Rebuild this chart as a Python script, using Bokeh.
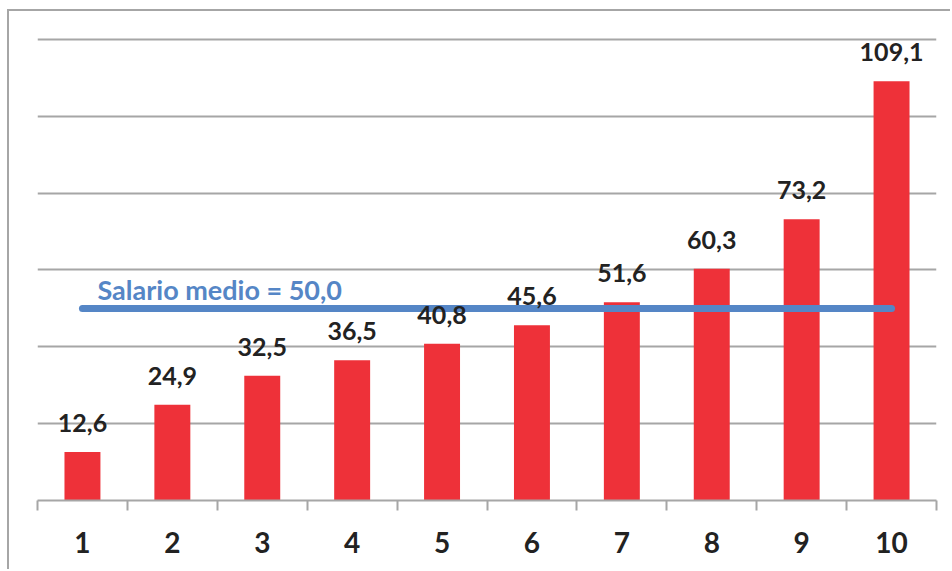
from bokeh.plotting import figure
from bokeh.models import Range1d, FixedTicker, Label, ColumnDataSource
from bokeh.core.properties import value
from bokeh.embed import file_html
from bokeh.resources import INLINE

categories = ["1", "2", "3", "4", "5", "6", "7", "8", "9", "10"]
positions = [1, 2, 3, 4, 5, 6, 7, 8, 9, 10]
salaries = [12.6, 24.9, 32.5, 36.5, 40.8, 45.6, 51.6, 60.3, 73.2, 109.1]
value_labels = ["12,6", "24,9", "32,5", "36,5", "40,8", "45,6", "51,6", "60,3", "73,2", "109,1"]
mean_salary = 50.0
mean_label = "Salario medio = 50,0"
grid_ticks = [20, 40, 60, 80, 100, 120]

FONT = "Lato"
GREY = "#A6A6A6"
RED = "#EE3139"
BLUE = "#5586C6"
DARK = "#222222"

src = ColumnDataSource(dict(x=positions, top=salaries, lab=value_labels))

p = figure(width=943, height=560, x_range=Range1d(0.5, 10.5), y_range=Range1d(0, 127.27),
           output_backend="svg", toolbar_location=None,
           min_border_left=28, min_border_right=16, min_border_top=0, min_border_bottom=71)
p.styles = {"border-left": "2px solid " + GREY, "border-top": "2px solid " + GREY,
            "margin-left": "7px", "margin-top": "9px"}
p.outline_line_color = None
p.background_fill_color = "white"
p.border_fill_color = "white"

p.yaxis.visible = False
p.xgrid.visible = False
p.ygrid.ticker = FixedTicker(ticks=grid_ticks)
p.ygrid.grid_line_color = GREY
p.ygrid.grid_line_width = 2

p.vbar(x="x", top="top", width=0.4, bottom=0, source=src, color=RED, line_color=None)

p.line([positions[0], positions[-1]], [mean_salary, mean_salary], line_color=BLUE,
       line_width=7, line_cap="round")

p.text(x="x", y="top", text="lab", source=src, text_align="center", text_baseline="alphabetic",
       y_offset=-29, text_font=value(FONT), text_font_style="bold", text_font_size="25px",
       text_color=DARK)

p.add_layout(Label(x=positions[0], y=mean_salary, text=mean_label, x_offset=15, y_offset=19,
                   text_font=FONT, text_font_style="bold", text_font_size="27px",
                   text_color=BLUE, text_baseline="alphabetic"))

ax = p.xaxis[0]
ax.ticker = FixedTicker(ticks=positions, minor_ticks=[x - 0.5 for x in positions] + [positions[-1] + 0.5])
ax.major_label_overrides = {float(x): c for x, c in zip(positions, categories)}
ax.axis_line_color = GREY
ax.axis_line_width = 2
ax.major_tick_line_color = None
ax.major_tick_out = 0
ax.major_tick_in = 0
ax.minor_tick_line_color = GREY
ax.minor_tick_line_width = 2
ax.minor_tick_out = 10
ax.minor_tick_in = 0
ax.major_label_standoff = 21
ax.major_label_text_font = FONT
ax.major_label_text_font_style = "bold"
ax.major_label_text_font_size = "28px"
ax.major_label_text_color = DARK

open("out.html", "w").write(file_html(p, INLINE))
